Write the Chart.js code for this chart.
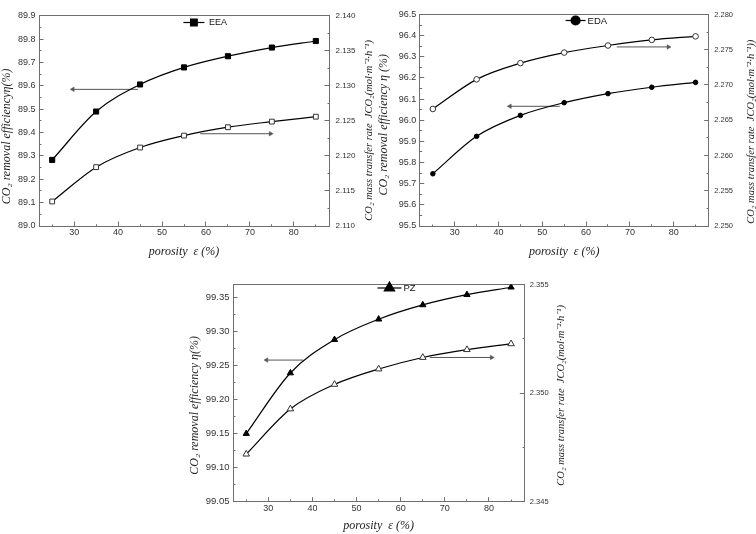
<!DOCTYPE html>
<html>
<head>
<meta charset="utf-8">
<script src="https://cdn.jsdelivr.net/npm/chart.js@4.4.0/dist/chart.umd.min.js"></script>
<style>
html, body { margin: 0; padding: 0; background: #fff; overflow: hidden; width: 756px; height: 534px; }
.panel { position: absolute; }
</style>
</head>
<body>
<div class="panel" style="left:0px;top:0px;width:376px;height:260px"><canvas id="c1"></canvas></div>
<div class="panel" style="left:376px;top:0px;width:380px;height:260px"><canvas id="c2"></canvas></div>
<div class="panel" style="left:188px;top:270px;width:380px;height:264px"><canvas id="c3"></canvas></div>
<script>
// ---------------- data ----------------
const porosity = [25, 35, 45, 55, 65, 75, 85];

const eeaEfficiency = [89.283, 89.490, 89.606, 89.679, 89.727, 89.764, 89.792];
const eeaFlux       = [2.1135, 2.1184, 2.1212, 2.1229, 2.1241, 2.1249, 2.1256];

const edaEfficiency = [95.747, 95.924, 96.023, 96.083, 96.126, 96.156, 96.179];
const edaFlux       = [2.2666, 2.2708, 2.2731, 2.2746, 2.2756, 2.2764, 2.2769];

const pzEfficiency  = [99.150, 99.239, 99.288, 99.318, 99.339, 99.354, 99.365];
const pzFlux        = [2.34719, 2.34927, 2.35040, 2.35111, 2.35164, 2.35200, 2.35227];

// tick labels
const xTickLabels = ['30', '40', '50', '60', '70', '80'];
const xMinorTicks = [25, 35, 45, 55, 65, 75, 85];
const eeaLeftTickLabels  = ['89.0', '89.1', '89.2', '89.3', '89.4', '89.5', '89.6', '89.7', '89.8', '89.9'];
const eeaRightTickLabels = ['2.110', '2.115', '2.120', '2.125', '2.130', '2.135', '2.140'];
const edaLeftTickLabels  = ['95.5', '95.6', '95.7', '95.8', '95.9', '96.0', '96.1', '96.2', '96.3', '96.4', '96.5'];
const edaRightTickLabels = ['2.250', '2.255', '2.260', '2.265', '2.270', '2.275', '2.280'];
const pzLeftTickLabels   = ['99.05', '99.10', '99.15', '99.20', '99.25', '99.30', '99.35'];
const pzRightTickLabels  = ['2.345', '2.350', '2.355'];

// axis ranges
const xRange = [22, 88];
const eeaLeftRange  = [89.0, 89.9];
const eeaRightRange = [2.110, 2.140];
const edaLeftRange  = [95.5, 96.5];
const edaRightRange = [2.250, 2.280];
const pzLeftRange   = [99.05, 99.369];
const pzRightRange  = [2.345, 2.355];

// direction arrows: [x from, x to (tip), y]
const eeaArrowLeft  = [44.5, 29.7, 89.585];
const eeaArrowRight = [58.7, 74.7, 2.12317];
const edaArrowLeft  = [54.0, 42.6, 96.066];
const edaArrowRight = [67.0, 78.8, 2.2754];
const pzArrowLeft   = [37.9, 29.6, 99.258];
const pzArrowRight  = [66.6, 80.6, 2.35164];

// ---------------- helpers ----------------
const SANS = "'Liberation Sans', Arial, sans-serif";
const SERIF = "'Liberation Serif', 'Times New Roman', serif";
const AXIS_COLOR = '#6f6f6f';
const LABEL_COLOR = '#333';

function buildTicks(labels, extraMinor) {
  const majors = labels.map(l => ({ value: parseFloat(l), major: true, lbl: l }));
  const minors = [];
  for (let i = 0; i < majors.length - 1; i++) {
    minors.push({ value: (majors[i].value + majors[i + 1].value) / 2, major: false, lbl: '' });
  }
  (extraMinor || []).forEach(v => minors.push({ value: v, major: false, lbl: '' }));
  return majors.concat(minors).sort((a, b) => a.value - b.value);
}

function points(xs, ys) { return xs.map((x, i) => ({ x: x, y: ys[i] })); }

const sideTitles = {
  id: 'sideTitles',
  afterDraw(chart, args, o) {
    const { ctx, chartArea } = chart;
    ['y', 'y1'].forEach(id => {
      const sc = chart.scales[id];
      const text = sc.options.title.text;
      const cfg = o[id];
      if (!text || !cfg) return;
      const x = id === 'y' ? chartArea.left - cfg.dx : chartArea.right + cfg.dx;
      const y = (chartArea.top + chartArea.bottom) / 2 + cfg.dy;
      ctx.save();
      ctx.translate(x, y);
      ctx.rotate(-Math.PI / 2);
      ctx.font = 'italic ' + cfg.size + 'px ' + SERIF;
      ctx.fillStyle = '#222';
      ctx.textAlign = 'center';
      ctx.textBaseline = 'middle';
      ctx.fillText(text, 0, 0);
      ctx.restore();
    });
  }
};

const insideLegend = {
  id: 'insideLegend',
  afterDatasetsDraw(chart, args, o) {
    const ds = chart.data.datasets[0];
    const ctx = chart.ctx;
    const cx = chart.scales.x.getPixelForValue(o.at);
    const cy = chart.chartArea.top + o.dy;
    ctx.save();
    ctx.strokeStyle = '#000';
    ctx.lineWidth = 1.2;
    ctx.beginPath();
    ctx.moveTo(cx - o.half, cy);
    ctx.lineTo(cx + o.half, cy);
    ctx.stroke();
    ctx.fillStyle = '#000';
    Chart.helpers.drawPoint(ctx, { pointStyle: ds.pointStyle, radius: o.r, rotation: 0, borderWidth: 1 }, cx, cy);
    ctx.font = o.size + 'px ' + SANS;
    ctx.textAlign = 'left';
    ctx.textBaseline = 'middle';
    ctx.fillStyle = '#111';
    ctx.fillText(ds.label, cx + o.textDx, cy + 0.5);
    ctx.restore();
  }
};

function arrowDataset(a, axisId, dir) {
  return {
    label: 'arrow',
    data: [{ x: a[0], y: a[2] }, { x: a[1], y: a[2] }],
    yAxisID: axisId,
    borderColor: '#555',
    borderWidth: 1,
    pointRadius: [0, 2.6],
    pointStyle: 'triangle',
    pointRotation: dir === 'left' ? 270 : 90,
    pointBackgroundColor: '#555',
    pointBorderColor: '#555',
    pointBorderWidth: 0.5,
    tension: 0
  };
}

function makeChart(id, p) {
  const xTicks = buildTicks(xTickLabels, xMinorTicks);
  const leftTicks = buildTicks(p.leftLabels, p.leftExtraMinor);
  const rightTicks = buildTicks(p.rightLabels, p.rightExtraMinor);
  const tickLen = -4.5;
  const labelCb = (v, i, ticks) => ticks[i].lbl || '';
  const gridFor = (innerFirst) => ({
    display: true,
    drawOnChartArea: false,
    drawTicks: true,
    tickLength: tickLen,
    tickColor: AXIS_COLOR,
    tickWidth: 1,
    tickBorderDash: (c) => (c.tick && !c.tick.major) ? (innerFirst ? [0, 2, 2.5, 20] : [2.5, 20]) : [],
    tickBorderDashOffset: 0
  });

  return new Chart(document.getElementById(id), {
    type: 'line',
    data: {
      datasets: [
        {
          label: p.name,
          data: points(porosity, p.eff),
          yAxisID: 'y',
          borderColor: '#000',
          borderWidth: 1.2,
          pointStyle: p.marker,
          pointRadius: p.filledR,
          pointBackgroundColor: '#000',
          pointBorderColor: '#000',
          pointBorderWidth: 1,
          cubicInterpolationMode: 'monotone'
        },
        {
          label: p.name + ' flux',
          data: points(porosity, p.flux),
          yAxisID: 'y1',
          borderColor: '#000',
          borderWidth: 1.2,
          pointStyle: p.marker,
          pointRadius: p.openR,
          pointBackgroundColor: '#fff',
          pointBorderColor: '#333',
          pointBorderWidth: 1,
          cubicInterpolationMode: 'monotone'
        },
        arrowDataset(p.arrowLeft, 'y', 'left'),
        arrowDataset(p.arrowRight, 'y1', 'right')
      ]
    },
    options: {
      responsive: true,
      maintainAspectRatio: false,
      animation: false,
      events: [],
      layout: { padding: p.padding },
      plugins: {
        legend: { display: false },
        tooltip: { enabled: false },
        sideTitles: p.titles,
        insideLegend: p.legend
      },
      scales: {
        x: {
          type: 'linear', position: 'bottom', min: xRange[0], max: xRange[1], bounds: 'data',
          afterBuildTicks: s => { s.ticks = xTicks.map(t => Object.assign({}, t)); },
          afterFit: s => { s.height = p.xH; },
          grid: gridFor(false),
          border: { display: true, color: AXIS_COLOR, width: 1 },
          ticks: { autoSkip: false, maxRotation: 0, padding: p.xPad, color: LABEL_COLOR,
                   font: { family: SANS, size: 9 }, callback: labelCb },
          title: { display: true, text: 'porosity  ε (%)', color: '#222',
                   font: { family: SERIF, size: 12, style: 'italic' }, padding: { top: 0, bottom: 1 } }
        },
        xTop: {
          type: 'linear', position: 'top', min: xRange[0], max: xRange[1],
          afterFit: s => { s.height = 0; },
          grid: { display: false, drawTicks: false },
          border: { display: true, color: AXIS_COLOR, width: 1 },
          ticks: { display: false }
        },
        y: {
          type: 'linear', position: 'left', min: p.leftRange[0], max: p.leftRange[1], bounds: 'data',
          afterBuildTicks: s => { s.ticks = leftTicks.map(t => Object.assign({}, t)); },
          afterFit: s => { s.width = p.yW; },
          grid: gridFor(true),
          border: { display: true, color: AXIS_COLOR, width: 1 },
          ticks: { autoSkip: false, padding: p.yPad, color: LABEL_COLOR,
                   font: { family: SANS, size: p.leftFont }, callback: labelCb },
          title: { display: false, text: p.leftTitle }
        },
        y1: {
          type: 'linear', position: 'right', min: p.rightRange[0], max: p.rightRange[1], bounds: 'data',
          afterBuildTicks: s => { s.ticks = rightTicks.map(t => Object.assign({}, t)); },
          afterFit: s => { s.width = p.y1W; },
          grid: gridFor(false),
          border: { display: true, color: AXIS_COLOR, width: 1 },
          ticks: { autoSkip: false, padding: p.y1Pad, color: LABEL_COLOR,
                   font: { family: SANS, size: p.rightFont }, callback: labelCb },
          title: { display: false, text: p.rightTitle }
        }
      }
    },
    plugins: [sideTitles, insideLegend]
  });
}

makeChart('c1', {
  name: 'EEA', marker: 'rect', filledR: 3.6, openR: 3.4,
  eff: eeaEfficiency, flux: eeaFlux,
  leftLabels: eeaLeftTickLabels, rightLabels: eeaRightTickLabels,
  leftRange: eeaLeftRange, rightRange: eeaRightRange,
  arrowLeft: eeaArrowLeft, arrowRight: eeaArrowRight,
  leftTitle: 'CO₂ removal efficiencyη(%)',
  rightTitle: 'CO₂ mass transfer rate  JCO₂(mol·m⁻²·h⁻¹)',
  padding: { top: 5, left: 0, right: 0, bottom: 0 },
  yW: 39, y1W: 47, xH: 34, xPad: 6, yPad: 8, y1Pad: 11,
  leftFont: 9, rightFont: 8,
  titles: { y: { dx: 32, dy: 15.5, size: 12 }, y1: { dx: 40, dy: 9.5, size: 10.5 } },
  legend: { at: 57.25, dy: 6.7, half: 10.5, r: 4.7, textDx: 15, size: 9 }
});

makeChart('c2', {
  name: 'EDA', marker: 'circle', filledR: 2.3, openR: 2.8,
  eff: edaEfficiency, flux: edaFlux,
  leftLabels: edaLeftTickLabels, rightLabels: edaRightTickLabels,
  leftRange: edaLeftRange, rightRange: edaRightRange,
  arrowLeft: edaArrowLeft, arrowRight: edaArrowRight,
  leftTitle: 'CO₂ removal efficiency η (%)',
  rightTitle: 'CO₂ mass transfer rate  JCO₂(mol·m⁻²·h⁻¹))',
  padding: { top: 5, left: 0, right: 0, bottom: 0 },
  yW: 43.7, y1W: 47.3, xH: 34, xPad: 6, yPad: 8, y1Pad: 10,
  leftFont: 9, rightFont: 7.5,
  titles: { y: { dx: 35.7, dy: 4.5, size: 12 }, y1: { dx: 43, dy: 11.5, size: 10.5 } },
  legend: { at: 57.6, dy: 6, half: 10, r: 4.5, textDx: 12, size: 9.5 }
});

makeChart('c3', {
  name: 'PZ', marker: 'triangle', filledR: 3.6, openR: 3.8,
  eff: pzEfficiency, flux: pzFlux,
  leftLabels: pzLeftTickLabels, rightLabels: pzRightTickLabels,
  leftExtraMinor: [], rightExtraMinor: [],
  leftRange: pzLeftRange, rightRange: pzRightRange,
  arrowLeft: pzArrowLeft, arrowRight: pzArrowRight,
  leftTitle: 'CO₂ removal efficiency η(%)',
  rightTitle: 'CO₂ mass transfer rate  JCO₂(mol·m⁻²·h⁻¹)',
  padding: { top: 10.7, left: 0, right: 0, bottom: 0 },
  yW: 45, y1W: 43.7, xH: 32.3, xPad: 6, yPad: 8, y1Pad: 10,
  leftFont: 9.5, rightFont: 7.5,
  titles: { y: { dx: 38, dy: 12.3, size: 12 }, y1: { dx: 37.4, dy: 2.3, size: 10.5 } },
  legend: { at: 57.45, dy: 3.5, half: 12, r: 6, textDx: 14, size: 9.5 }
});
</script>
</body>
</html>
